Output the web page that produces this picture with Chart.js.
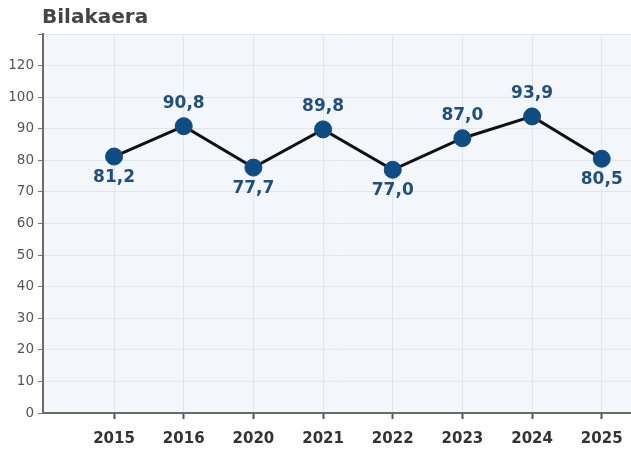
<!DOCTYPE html>
<html>
<head>
<meta charset="utf-8">
<script src="https://cdn.jsdelivr.net/npm/chart.js@4.4.1/dist/chart.umd.min.js"></script>
<style>
  html, body { margin: 0; padding: 0; background: #fff; }
  #wrap { width: 631px; height: 456px; }
</style>
</head>
<body>
<div id="wrap"><canvas id="chart1"></canvas></div>
<script>
const title = 'Bilakaera';
const years = ['2015', '2016', '2020', '2021', '2022', '2023', '2024', '2025'];
const values = [81.2, 90.8, 77.7, 89.8, 77.0, 87.0, 93.9, 80.5];
const yTickLabels = ['0', '10', '20', '30', '40', '50', '60', '70', '80', '90', '100', '120'];

// fondo gris-azulado del area del grafico
const areaBg = {
  id: 'areaBg',
  beforeDraw(chart) {
    const { ctx, chartArea: a } = chart;
    ctx.save();
    ctx.fillStyle = '#f3f6fa';
    ctx.fillRect(a.left, a.top, a.right - a.left, a.bottom - a.top);
    ctx.restore();
  }
};

// titulo y etiquetas de los puntos
const labelsPlugin = {
  id: 'labelsPlugin',
  afterDraw(chart) {
    const { ctx, chartArea: a } = chart;
    ctx.save();
    ctx.fillStyle = '#454545';
    ctx.font = 'bold 20px "DejaVu Sans"';
    ctx.textAlign = 'left';
    ctx.textBaseline = 'alphabetic';
    ctx.fillText(title, a.left - 1, 23);

    const meta = chart.getDatasetMeta(0);
    ctx.font = 'bold 17px "DejaVu Sans"';
    ctx.fillStyle = '#1f4f7f';
    ctx.textAlign = 'center';
    ctx.textBaseline = 'middle';
    meta.data.forEach((pt, i) => {
      const above = i > 0 && values[i] > values[i - 1];
      const txt = values[i].toFixed(1).replace('.', ',');
      ctx.fillText(txt, pt.x, above ? pt.y - 23 : pt.y + 21);
    });
    ctx.restore();
  }
};

new Chart(document.getElementById('chart1'), {
  type: 'line',
  data: {
    datasets: [{
      data: values.map((v, i) => ({ x: i + 1, y: v })),
      borderColor: '#111',
      borderWidth: 3,
      pointRadius: 8.5,
      pointBackgroundColor: '#0f4c84',
      pointBorderColor: '#0f4c84',
      pointBorderWidth: 1,
      tension: 0
    }]
  },
  options: {
    responsive: true,
    maintainAspectRatio: false,
    animation: false,
    layout: { autoPadding: false, padding: { top: 34, left: 0, right: 0, bottom: 0 } },
    plugins: {
      legend: { display: false },
      tooltip: { enabled: false }
    },
    scales: {
      x: {
        type: 'linear',
        min: -0.02,
        max: 8.42,
        afterBuildTicks: (axis) => {
          axis.ticks = years.map((y, i) => ({ value: i + 1 }));
        },
        afterFit: (axis) => {
          axis.height = 43;
          axis.paddingLeft = 0;
          axis.paddingRight = 0;
        },
        ticks: {
          autoSkip: false,
          maxRotation: 0,
          padding: 11,
          color: '#333',
          font: { family: 'DejaVu Sans', size: 15, weight: 'bold' },
          callback: (v) => years[v - 1]
        },
        grid: { color: '#e2e6ec', tickColor: '#555', tickLength: 6, tickWidth: 2 },
        border: { color: '#6a6a6a', width: 2 }
      },
      y: {
        min: 0,
        max: 120,
        afterFit: (axis) => {
          axis.width = 43;
          axis.paddingTop = 0;
          axis.paddingBottom = 0;
        },
        ticks: {
          stepSize: 10,
          padding: 4,
          color: '#555',
          font: { family: 'DejaVu Sans', size: 13.5 },
          callback: (v) => yTickLabels[v / 10] ?? ''
        },
        grid: { color: '#e2e6ec', tickColor: '#777', tickLength: 5 },
        border: { color: '#6a6a6a', width: 2 }
      }
    }
  },
  plugins: [areaBg, labelsPlugin]
});
</script>
</body>
</html>
